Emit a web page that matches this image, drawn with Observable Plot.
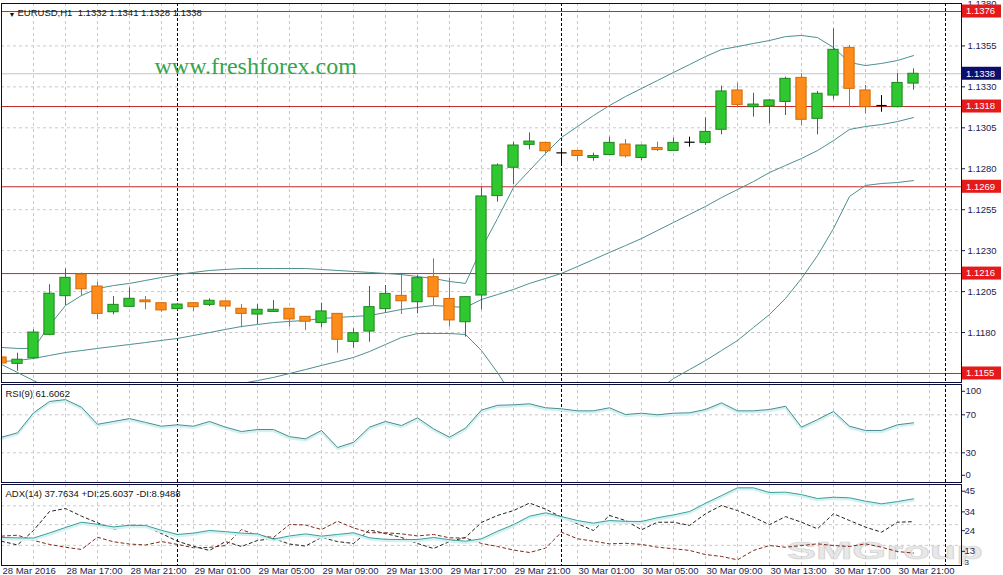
<!DOCTYPE html>
<html>
<head>
<meta charset="utf-8">
<script src="https://cdn.jsdelivr.net/npm/d3@7"></script>
<script src="https://cdn.jsdelivr.net/npm/@observablehq/plot@0.6"></script>
<style>
html, body { margin: 0; padding: 0; background: #fff; }
#chart { position: relative; width: 1003px; height: 575px; overflow: hidden; background: #fff; }
#chart .panel { position: absolute; left: 0; }
</style>
</head>
<body>
<div id="chart"></div>
<script>
// ---------- DATA ----------
const headerText = "EURUSD,H1  1.1332 1.1341 1.1328 1.1338";
const watermark = "www.freshforex.com";
const rsiTitle = "RSI(9) 61.6062";
const adxTitle = "ADX(14) 37.7634 +DI:25.6037 -DI:8.9488";
const brandMark = "SMGroup";

// bar index 0 = 28 Mar 2016 13:00, one bar per hour
const xTickBars = [0, 4, 8, 12, 16, 20, 24, 28, 32, 36, 40, 44, 48, 52, 56];
const xTickLabels = ["28 Mar 2016", "28 Mar 17:00", "28 Mar 21:00", "29 Mar 01:00", "29 Mar 05:00",
  "29 Mar 09:00", "29 Mar 13:00", "29 Mar 17:00", "29 Mar 21:00", "30 Mar 01:00", "30 Mar 05:00",
  "30 Mar 09:00", "30 Mar 13:00", "30 Mar 17:00", "30 Mar 21:00"];
const gridBars = [0,2,4,6,8,10,12,14,16,18,20,22,24,26,28,30,32,34,36,38,40,42,44,46,48,50,52,54,56,58];
const daySeparators = [11, 35, 59];

const open = [1.11648,1.11609,1.11643,1.11786,1.12022,1.12154,1.12081,1.11924,1.11957,1.11996,
  1.11979,1.11943,1.11979,1.11969,1.11990,1.11945,1.11910,1.11926,1.11945,1.11896,
  1.11859,1.11914,1.11743,1.11806,1.11943,1.12024,1.11985,1.12138,1.12005,1.11863,
  1.12026,1.12633,1.12806,1.12946,1.12958,1.12897,1.12909,1.12866,1.12884,1.12948,
  1.12866,1.12927,1.12909,1.12962,1.12958,1.13038,1.13278,1.13176,1.13180,1.13208,
  1.13355,1.13105,1.13247,1.13538,1.13278,1.13186,1.13176,1.13320];
const high = [1.11655,1.11674,1.11817,1.12092,1.12189,1.12164,1.12107,1.12020,1.12073,1.12020,
  1.11982,1.11977,1.11983,1.12006,1.11993,1.11971,1.11971,1.11996,1.11947,1.11898,
  1.11979,1.11916,1.11823,1.12081,1.12087,1.12154,1.12148,1.12250,1.12134,1.12020,
  1.12688,1.12830,1.12962,1.13019,1.12960,1.12925,1.12910,1.12895,1.12993,1.12978,
  1.12945,1.12962,1.12987,1.12993,1.13111,1.13304,1.13323,1.13261,1.13223,1.13359,
  1.13380,1.13272,1.13654,1.13552,1.13308,1.13247,1.13383,1.13410];
const low = [1.11605,1.11564,1.11640,1.11780,1.11965,1.12022,1.11878,1.11908,1.11955,1.11939,
  1.11924,1.11935,1.11929,1.11959,1.11939,1.11829,1.11849,1.11924,1.11833,1.11812,
  1.11829,1.11674,1.11704,1.11741,1.11918,1.11910,1.11914,1.11965,1.11833,1.11772,
  1.11939,1.12596,1.12704,1.12915,1.12891,1.12830,1.12846,1.12846,1.12884,1.12866,
  1.12850,1.12905,1.12909,1.12932,1.12942,1.13007,1.13176,1.13115,1.13074,1.13125,
  1.13064,1.13007,1.13220,1.13172,1.13135,1.13145,1.13176,1.13280];
const close = [1.11611,1.11634,1.11800,1.12037,1.12134,1.12064,1.11914,1.11969,1.12006,1.11985,
  1.11935,1.11971,1.11955,1.11994,1.11959,1.11914,1.11939,1.11939,1.11880,1.11866,
  1.11929,1.11756,1.11796,1.11955,1.12036,1.11991,1.12132,1.12016,1.11874,1.12016,
  1.12631,1.12820,1.12942,1.12966,1.12907,1.12897,1.12878,1.12878,1.12958,1.12876,
  1.12942,1.12914,1.12958,1.12962,1.13025,1.13272,1.13190,1.13192,1.13217,1.13349,
  1.13099,1.13258,1.13526,1.13288,1.13176,1.13186,1.13324,1.13380];

const bbUpper = [1.11709,1.11703,1.11703,1.11843,1.11965,1.12026,1.12069,1.12087,1.12100,1.12118,
  1.12136,1.12154,1.12167,1.12179,1.12185,1.12191,1.12191,1.12191,1.12191,1.12191,
  1.12185,1.12179,1.12173,1.12167,1.12161,1.12154,1.12142,1.12130,1.12112,1.12100,
  1.12313,1.12496,1.12686,1.12789,1.12893,1.12991,1.13058,1.13125,1.13186,1.13241,
  1.13290,1.13339,1.13388,1.13436,1.13485,1.13528,1.13546,1.13565,1.13583,1.13607,
  1.13614,1.13601,1.13540,1.13449,1.13430,1.13443,1.13461,1.13491];
const bbMiddle = [1.11623,1.11629,1.11642,1.11660,1.11678,1.11690,1.11703,1.11715,1.11727,1.11739,
  1.11752,1.11764,1.11782,1.11800,1.11819,1.11837,1.11849,1.11861,1.11868,1.11874,
  1.11886,1.11892,1.11898,1.11904,1.11922,1.11941,1.11953,1.11965,1.11959,1.11953,
  1.12002,1.12032,1.12063,1.12100,1.12130,1.12161,1.12203,1.12246,1.12289,1.12331,
  1.12374,1.12423,1.12472,1.12521,1.12570,1.12624,1.12673,1.12722,1.12777,1.12820,
  1.12863,1.12911,1.12972,1.13040,1.13058,1.13070,1.13088,1.13113];
const bbLower = [1.11605,1.11556,1.11507,1.11458,1.11422,1.11397,1.11385,1.11379,1.11385,1.11391,
  1.11403,1.11416,1.11434,1.11452,1.11471,1.11489,1.11507,1.11526,1.11550,1.11574,
  1.11599,1.11623,1.11648,1.11684,1.11727,1.11770,1.11794,1.11794,1.11794,1.11788,
  1.11690,1.11556,1.11403,1.11294,1.11214,1.11171,1.11165,1.11190,1.11232,1.11294,
  1.11367,1.11446,1.11519,1.11574,1.11629,1.11690,1.11751,1.11831,1.11910,1.12008,
  1.12130,1.12270,1.12435,1.12631,1.12698,1.12710,1.12716,1.12728];

const rsi = [46.4,51,72,84,86,78,60,63,66,62,58,59.5,58,63,57,52.4,54.5,54.5,47,44.7,
  53.5,35.6,41,57,63,58.7,66.8,55.3,46.4,56,75,80,80.5,81.6,77.4,76.3,74.2,74.2,77.4,70.3,
  71.7,70,71.7,72.1,75.6,82.6,74.2,74.2,75.6,79,57,65,73.5,58,53.5,53.5,59.5,61.6];

const adx = [17.2,17.0,16.9,19.6,22.5,25.3,24.2,22.8,23.7,23.6,21.0,18.8,19.5,20.9,20.3,19.5,19.1,16.3,18.0,19.1,
  17.9,18.8,19.7,17.0,16.2,16.1,16.1,17.2,16.0,15.2,16.5,20.5,24.0,28.5,30.3,28.3,26.2,24.8,26.2,25.8,
  25.7,27.7,29.2,31.0,35.4,39.5,43.6,43.6,41.1,41.3,40.0,37.9,38.6,38.3,36.5,35.1,36.3,37.76];
const plusDI = [15.2,13.2,20.9,31.0,32.6,28.5,25.0,21.4,23.7,23.0,19.3,15.2,12.5,10.3,15.0,12.4,15.6,16.6,13.7,12.6,
  17.2,15.0,14.0,21.2,19.3,17.2,14.0,11.3,15.0,17.2,25.2,28.9,31.5,35.5,32.3,28.0,24.5,20.9,28.9,26.2,
  21.3,25.3,25.3,23.6,29.8,34.2,31.5,28.0,24.0,28.3,25.3,21.8,29.8,26.2,22.7,20.0,25.3,25.6];
const minusDI = [17.9,18.4,15.6,13.5,12.0,10.8,17.3,14.9,13.7,13.2,15.0,13.5,11.7,11.9,12.9,21.4,18.2,17.2,24.1,23.8,
  21.4,25.8,22.3,19.7,19.7,19.1,18.0,18.8,17.0,16.9,14.0,12.4,10.5,9.2,11.5,20.0,16.5,15.2,13.8,14.1,
  13.5,12.0,11.2,10.3,8.1,7.1,5.3,10.3,12.9,12.0,12.9,13.8,12.9,12.4,13.8,12.0,9.7,8.9];

const priceTicks = [1.1180, 1.1205, 1.1230, 1.1255, 1.1280, 1.1305, 1.1330, 1.1355];
const priceTopTick = [1.1380];
const levels = [1.1376, 1.1318, 1.1269, 1.1216, 1.1155];
const lastPrice = 1.1338;
const rsiGrid = [70, 30];
const rsiTopLabel = [100];
const rsiBottomLabel = [0];
const adxTicks = [45, 34, 24, 13];
const adxBottomLabel = [3];

// ---------- STYLE ----------
const W = 1003, MR = 42, ML = 1;
const FONT = "'Liberation Sans', Arial, sans-serif";
const axisColor = "#1c1c4e";
const frameColor = "#0c0c3c";
const gridStyle = {stroke: "#c9c9c9", strokeOpacity: 1, strokeDasharray: "3,3"};
const sepStyle = {stroke: "#000", strokeDasharray: "3,2"};
const bandColor = "#4f8f8f";
const upFill = "#30c830", upStroke = "#1d861d";
const dnFill = "#ff8c1a", dnStroke = "#d06a08";
const axisText = {anchor: "right", fontSize: 9.5, color: axisColor};

const bars = open.map((o, i) => ({i, o, h: high[i], l: low[i], c: close[i]}));
const up = bars.filter(d => d.c > d.o);
const dn = bars.filter(d => d.c < d.o);
const flat = bars.filter(d => d.c === d.o);
const hw = 0.32;

const common = {
  width: W, marginLeft: ML, marginRight: MR,
  x: {domain: [0, 60], axis: null},
  style: {background: "transparent", overflow: "visible", fontFamily: FONT, fontSize: "9.5px"}
};

const chart = document.getElementById("chart");
function place(svg, top) {
  const div = document.createElement("div");
  div.className = "panel";
  div.style.top = top + "px";
  div.appendChild(svg);
  chart.appendChild(div);
}

// ---------- MAIN PRICE PANEL ----------
const mainPlot = Plot.plot({
  ...common,
  height: 383, marginTop: 3, marginBottom: 1,
  y: {domain: [1.11495, 1.13809], axis: null},
  marks: [
    Plot.gridX(gridBars, gridStyle),
    Plot.gridY(priceTicks, gridStyle),
    Plot.ruleY([lastPrice], {stroke: "#c4c4c4"}),
    Plot.ruleY(levels, {stroke: "#c22a2a"}),
    Plot.ruleX(daySeparators, sepStyle),
    Plot.text([watermark], {frameAnchor: "top-left", dx: 153, dy: 63, textAnchor: "start", lineAnchor: "middle",
      fontFamily: "'Liberation Serif', 'Times New Roman', serif", fontSize: 24, fill: "#36a44e"}),
    Plot.line(bbUpper, {x: (d, i) => i, y: d => d, stroke: bandColor, strokeWidth: 1, clip: true}),
    Plot.line(bbMiddle, {x: (d, i) => i, y: d => d, stroke: bandColor, strokeWidth: 1, clip: true}),
    Plot.line(bbLower, {x: (d, i) => i, y: d => d, stroke: bandColor, strokeWidth: 1, clip: true}),
    Plot.ruleX(up, {x: "i", y1: "l", y2: "h", stroke: upStroke, clip: true}),
    Plot.ruleX(dn, {x: "i", y1: "l", y2: "h", stroke: dnStroke, clip: true}),
    Plot.ruleX(flat, {x: "i", y1: "l", y2: "h", stroke: "#000", clip: true}),
    Plot.rect(up, {x1: d => d.i - hw, x2: d => d.i + hw, y1: "o", y2: "c", fill: upFill, stroke: upStroke, clip: true}),
    Plot.rect(dn, {x1: d => d.i - hw, x2: d => d.i + hw, y1: "o", y2: "c", fill: dnFill, stroke: dnStroke, clip: true}),
    Plot.link(flat, {x1: d => d.i - hw, x2: d => d.i + hw, y1: "o", y2: "c", stroke: "#000", strokeWidth: 1.2}),
    Plot.text(["▼"], {frameAnchor: "top-left", dx: 7, dy: 9, fontSize: 7, fill: "#111"}),
    Plot.text([headerText], {frameAnchor: "top-left", dx: 16, dy: 9, textAnchor: "start", lineAnchor: "middle",
      fontSize: 9.5, fill: "#141414"}),
    Plot.axisY(priceTicks, {...axisText, tickFormat: d3.format(".4f"), tickSize: 3, tickPadding: 3}),
    Plot.axisY(priceTopTick, {...axisText, tickFormat: d3.format(".4f"), tickSize: 0, tickPadding: 6, dy: -1}),
    Plot.frame({stroke: frameColor})
  ]
});
place(mainPlot, 0);

// level boxes and current price box on the right price scale
{
  const ys = mainPlot.scale("y");
  const g = d3.select(mainPlot).append("g")
    .attr("font-family", FONT).attr("font-size", 9.5).attr("text-anchor", "start");
  const x0 = W - MR + 1;
  const box = (v, color) => {
    const y = ys.apply(v);
    g.append("rect").attr("x", x0).attr("y", y - 6.5).attr("width", 39).attr("height", 13).attr("fill", color);
    g.append("text").attr("x", x0 + 4).attr("y", y).attr("dy", "0.35em")
      .attr("text-anchor", "start").attr("fill", "#fff").text(v.toFixed(4));
  };
  levels.forEach(v => box(v, "#e51a1a"));
  box(lastPrice, "#0e0e6a");
}

// ---------- RSI PANEL ----------
const rsiPlot = Plot.plot({
  ...common,
  height: 100, marginTop: 1, marginBottom: 1,
  y: {domain: [-1.26, 101.9], axis: null},
  marks: [
    Plot.gridX(gridBars, gridStyle),
    Plot.gridY(rsiGrid, gridStyle),
    Plot.ruleX(daySeparators, sepStyle),
    Plot.line(rsi, {x: (d, i) => i, y: d => d, stroke: "#d3f1f2", strokeWidth: 2.5, dy: 1.5}),
    Plot.line(rsi, {x: (d, i) => i, y: d => d, stroke: "#4b8c8e", strokeWidth: 1}),
    Plot.text([rsiTitle], {frameAnchor: "top-left", dx: 4, dy: 9, textAnchor: "start", lineAnchor: "middle",
      fontSize: 9.5, fill: "#141414"}),
    Plot.axisY(rsiGrid, {...axisText, tickSize: 3, tickPadding: 1}),
    Plot.axisY(rsiTopLabel, {...axisText, tickSize: 3, tickPadding: 1, dy: 5}),
    Plot.axisY(rsiBottomLabel, {...axisText, tickSize: 3, tickPadding: 1, dy: -6}),
    Plot.frame({stroke: frameColor})
  ]
});
place(rsiPlot, 383);

// ---------- ADX PANEL ----------
const adxPlot = Plot.plot({
  ...common,
  height: 92, marginTop: 1, marginBottom: 10,
  y: {domain: [2.28, 45.37], axis: null},
  marks: [
    Plot.gridX(gridBars, gridStyle),
    Plot.gridY(adxTicks.slice(1), gridStyle),
    Plot.ruleX(daySeparators, sepStyle),
    Plot.line(plusDI, {x: (d, i) => i, y: d => d, stroke: "#222", strokeWidth: 1, strokeDasharray: "3,3"}),
    Plot.line(minusDI, {x: (d, i) => i, y: d => d, stroke: "#7e2a1c", strokeWidth: 1, strokeDasharray: "3,3"}),
    Plot.line(adx, {x: (d, i) => i, y: d => d, stroke: "#d3f1f2", strokeWidth: 2.5, dy: 1.5}),
    Plot.line(adx, {x: (d, i) => i, y: d => d, stroke: "#3a9e98", strokeWidth: 1}),
    Plot.text([adxTitle], {frameAnchor: "top-left", dx: 4, dy: 9, textAnchor: "start", lineAnchor: "middle",
      fontSize: 9.5, fill: "#141414"}),
    Plot.axisY(adxTicks, {...axisText, tickSize: 3, tickPadding: 0, dy: 6}),
    Plot.axisY(adxBottomLabel, {...axisText, fontSize: 8, tickSize: 0, tickPadding: 3, dy: -2}),
    Plot.axisX(xTickBars, {anchor: "bottom", tickSize: 0, tickPadding: 2, textAnchor: "start", dx: 1,
      tickFormat: (d, i) => xTickLabels[i], fontSize: 9.5, color: axisColor}),
    Plot.frame({stroke: frameColor})
  ]
});
place(adxPlot, 483);

// faint brand watermark, bottom right (behind the axis text)
d3.select(adxPlot).insert("text", ":first-child")
  .attr("x", 787).attr("y", 76)
  .attr("text-anchor", "start")
  .attr("font-family", FONT).attr("font-weight", "bold").attr("font-size", 24)
  .attr("textLength", 196).attr("lengthAdjust", "spacingAndGlyphs")
  .attr("fill", "#e8e8e8").attr("stroke", "#d4d4d4").attr("stroke-width", 0.6)
  .text(brandMark);
</script>
</body>
</html>
